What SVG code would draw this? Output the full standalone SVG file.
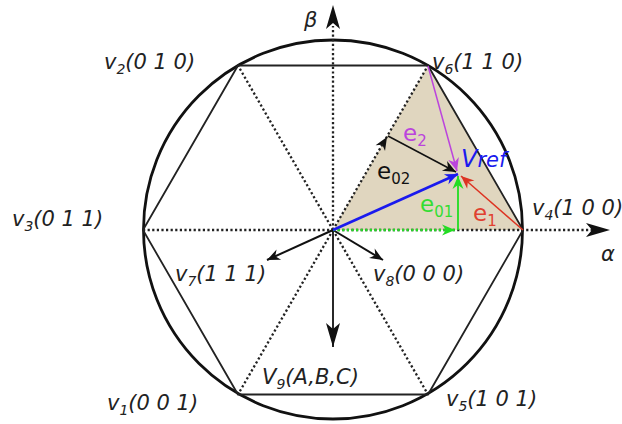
<svg xmlns="http://www.w3.org/2000/svg" width="622" height="424" viewBox="0 0 622 424">
<defs>
<style>
.lbl{font-family:"DejaVu Sans",sans-serif;font-style:oblique;font-size:21px;fill:#222}
.sub{font-size:14px}
.el{font-family:"DejaVu Sans",sans-serif;font-size:23px}
.esub{font-size:15px}
.dot{stroke:#222;stroke-width:2.3;stroke-dasharray:2.2 2.4;fill:none}
.solid{stroke:#222;stroke-width:1.8;fill:none}
</style>
<marker id="bigK" markerUnits="userSpaceOnUse" markerWidth="26" markerHeight="18" viewBox="-24 -9 26 18" refX="0" refY="0" orient="auto" overflow="visible"><path d="M0,0 L-24,-7 L-18,0 L-24,7 Z" fill="#111"/></marker>
<marker id="k" markerUnits="userSpaceOnUse" markerWidth="14" markerHeight="12" viewBox="-13 -6 14 12" refX="0" refY="0" orient="auto" overflow="visible"><path d="M0,0 L-13,-5.5 L-9,0 L-13,5.5 Z" fill="#111"/></marker>
<marker id="b" markerUnits="userSpaceOnUse" markerWidth="14" markerHeight="12" viewBox="-13 -6 14 12" refX="0" refY="0" orient="auto" overflow="visible"><path d="M0,0 L-13,-5.5 L-9,0 L-13,5.5 Z" fill="#1a1aee"/></marker>
<marker id="g" markerUnits="userSpaceOnUse" markerWidth="14" markerHeight="12" viewBox="-13 -6 14 12" refX="0" refY="0" orient="auto" overflow="visible"><path d="M0,0 L-13,-5.5 L-9,0 L-13,5.5 Z" fill="#22dd22"/></marker>
<marker id="r" markerUnits="userSpaceOnUse" markerWidth="14" markerHeight="12" viewBox="-13 -6 14 12" refX="0" refY="0" orient="auto" overflow="visible"><path d="M0,0 L-13,-5.5 L-9,0 L-13,5.5 Z" fill="#dd3322"/></marker>
<marker id="m" markerUnits="userSpaceOnUse" markerWidth="14" markerHeight="12" viewBox="-13 -6 14 12" refX="0" refY="0" orient="auto" overflow="visible"><path d="M0,0 L-13,-5.5 L-9,0 L-13,5.5 Z" fill="#bb44dd"/></marker>
</defs>
<rect width="622" height="424" fill="#fff"/>
<g id="sector">
<polygon points="333,230 428,65.5 523,230" fill="#e0d6bf"/>
</g>
<g id="circle">
<circle cx="333" cy="229.5" r="189.5" fill="none" stroke="#111" stroke-width="2.8"/>
</g>
<g id="hexagon">
<polygon class="solid" points="523,230 428,65.5 238,65.5 143,230 238,394.5 428,394.5"/>
</g>
<g id="connectors">
<line class="dot" x1="333" y1="230" x2="428" y2="65.5"/>
<line class="dot" x1="333" y1="230" x2="238" y2="65.5"/>
<line class="dot" x1="333" y1="230" x2="238" y2="394.5"/>
<line class="dot" x1="333" y1="230" x2="428" y2="394.5"/>
<line class="dot" x1="143" y1="230" x2="333" y2="230"/>
<line class="dot" x1="333" y1="230" x2="594" y2="230"/>
<line class="dot" x1="333" y1="230" x2="333" y2="26"/>
<path d="M333,30 L333,5" stroke="none" fill="none" marker-end="url(#bigK)"/>
<path d="M590,230 L610,230" stroke="none" fill="none" marker-end="url(#bigK)"/>
<line stroke="#111" stroke-width="1.8" x1="333" y1="230" x2="333" y2="347" marker-end="url(#bigK)"/>
<line stroke="#111" stroke-width="2" x1="333" y1="230" x2="267" y2="260" marker-end="url(#k)"/>
<line stroke="#111" stroke-width="2" x1="333" y1="230" x2="383" y2="260" marker-end="url(#k)"/>
<line stroke="#22dd22" stroke-width="2.4" stroke-dasharray="2.2 2.4" x1="333" y1="230" x2="455" y2="230" marker-end="url(#g)"/>
<line stroke="#22dd22" stroke-width="1.8" x1="458" y1="230" x2="458" y2="176" marker-end="url(#g)"/>
<path d="M378,152 L387,137" stroke="none" fill="none" marker-end="url(#k)"/>
<line stroke="#111" stroke-width="1.5" x1="388" y1="136" x2="456" y2="172" marker-end="url(#k)"/>
<line stroke="#bb44dd" stroke-width="1.5" x1="428" y1="66" x2="457" y2="171" marker-end="url(#m)"/>
<line stroke="#dd3322" stroke-width="1.5" x1="523" y1="230" x2="461" y2="176" marker-end="url(#r)"/>
<line stroke="#1a1aee" stroke-width="2.6" x1="333" y1="230" x2="458" y2="174" marker-end="url(#b)"/>
</g>
<g id="labels">
<text class="lbl" x="304" y="27">β</text>
<text class="lbl" x="601" y="261">α</text>
<text class="lbl" x="104" y="69">v<tspan class="sub" dy="5">2</tspan><tspan dy="-5">(0 1 0)</tspan></text>
<text class="lbl" x="432" y="69">v<tspan class="sub" dy="5">6</tspan><tspan dy="-5">(1 1 0)</tspan></text>
<text class="lbl" x="12" y="226">v<tspan class="sub" dy="5">3</tspan><tspan dy="-5">(0 1 1)</tspan></text>
<text class="lbl" x="532" y="215">v<tspan class="sub" dy="5">4</tspan><tspan dy="-5">(1 0 0)</tspan></text>
<text class="lbl" x="175" y="281">v<tspan class="sub" dy="5">7</tspan><tspan dy="-5">(1 1 1)</tspan></text>
<text class="lbl" x="373" y="281">v<tspan class="sub" dy="5">8</tspan><tspan dy="-5">(0 0 0)</tspan></text>
<text class="lbl" x="262" y="384">V<tspan class="sub" dy="5">9</tspan><tspan dy="-5">(A,B,C)</tspan></text>
<text class="lbl" x="107" y="410">v<tspan class="sub" dy="5">1</tspan><tspan dy="-5">(0 0 1)</tspan></text>
<text class="lbl" x="446" y="406">v<tspan class="sub" dy="5">5</tspan><tspan dy="-5">(1 0 1)</tspan></text>
<text class="el" x="403" y="141" fill="#bb44dd">e<tspan class="esub" dy="5">2</tspan></text>
<text class="el" x="377" y="179" fill="#111">e<tspan class="esub" dy="5">02</tspan></text>
<text class="el" x="420" y="212" fill="#33dd33">e<tspan class="esub" dy="5">01</tspan></text>
<text class="el" x="473" y="221" fill="#e04030">e<tspan class="esub" dy="5">1</tspan></text>
<text x="461" y="167" font-family="DejaVu Sans,sans-serif" font-style="oblique" font-size="24" fill="#1a1aee">V<tspan font-size="21">ref</tspan></text>
</g>
</svg>
